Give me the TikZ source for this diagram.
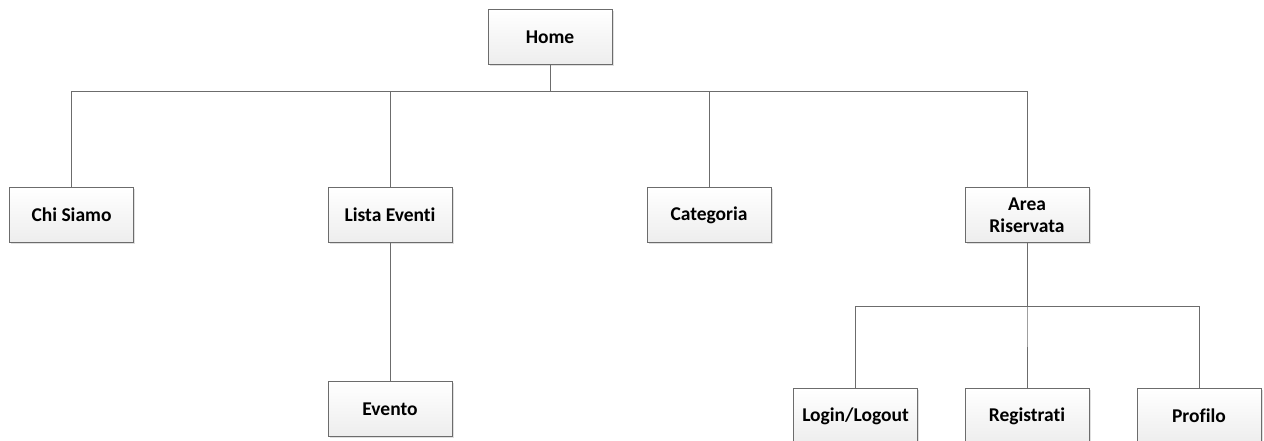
\documentclass[tikz,border=0pt]{standalone}
\usepackage{fontspec}
\setmainfont[Ligatures=NoCommon]{Carlito}
\usetikzlibrary{shadows}

\tikzset{
  page/.style={x=1bp,y=-1bp},
  box/.style={draw=gray!85!black, line width=0.9bp, top color=white, bottom color=gray!14,
    minimum width=124bp, minimum height=55bp, inner sep=1bp, align=center,
    font=\fontsize{19.5bp}{22bp}\selectfont\bfseries,
    drop shadow={opacity=0.25, shadow xshift=1.5bp, shadow yshift=-1.5bp}},
  link/.style={draw=gray!85!black, line width=1bp}
}

\begin{document}
\begin{tikzpicture}[page]
  \useasboundingbox (0,0) rectangle (1264,441);

  % levels
  \coordinate (bus) at (0,92);
  \coordinate (subbus) at (0,307);

  \node[box] (home) at (550,37) {Home};

  \node[box] (chi) at (71.5,215) {Chi Siamo};
  \node[box] (lista) at (390,215) {Lista Eventi};
  \node[box] (cat) at (709,215) {Categoria};
  \node[box] (area) at (1027,215) {Area\\Riservata};

  \node[box] (evento) at (390,409) {Evento};
  \node[box] (login) at (855.5,416) {Login/Logout};
  \node[box] (reg) at (1027,416) {Registrati};
  \node[box] (prof) at (1199,416) {Profilo};

  % connectors
  \foreach \n in {chi,lista,cat,area}
    \draw[link] (home.south) -- (home.south |- bus) -| (\n.north);
  \draw[link] (lista.south) -- (evento.north);
  \foreach \n in {login,reg,prof}
    \draw[link] (area.south) -- (area.south |- subbus) -| (\n.north);
\end{tikzpicture}
\end{document}
